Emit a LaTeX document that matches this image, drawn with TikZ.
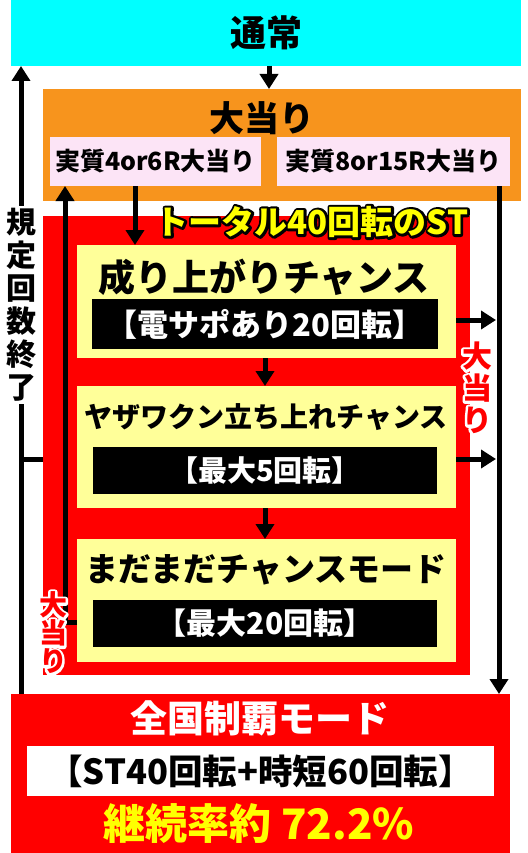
\documentclass[tikz,border=0pt]{standalone}
\usepackage{fontspec}
\setmainfont{Noto Sans CJK JP Black}
\usetikzlibrary{arrows.meta}
\definecolor{cyanbg}{HTML}{00FFFF}
\definecolor{orangebg}{HTML}{F7941D}
\definecolor{pinkbg}{HTML}{FCE4F6}
\definecolor{redbg}{HTML}{FF0000}
\definecolor{paleyel}{HTML}{FFFF99}
\definecolor{txtyel}{HTML}{FFFF00}
\newcommand{\jfs}[1]{\fontsize{#1}{#1}\selectfont}
% outlined text: stroked copy below, filled text on top
\newcommand{\outl}[3]{\leavevmode\rlap{\textcolor{#1}{\special{pdf:literal direct 1 Tr #2 w 1 j}#3\special{pdf:literal direct 0 Tr}}}#3}
\tikzset{
  boxnode/.style={inner sep=0pt, outer sep=0pt, draw=none},
  arr/.style={line width=5pt, -{Triangle[length=15pt,width=18pt]}},
  ln/.style={line width=5pt},
  txt/.style={inner sep=0pt, outer sep=0pt}
}
\begin{document}
\begin{tikzpicture}[x=1pt,y=-1pt]
\useasboundingbox (0,0) rectangle (527,853);
% boxes
\node[boxnode, fill=cyanbg, minimum width=510pt, minimum height=66pt] (tsujo) at (266,33) {\jfs{36}通常};
\node[boxnode, fill=orangebg, minimum width=478pt, minimum height=112pt] (oatari) at (282,145) {};
\node[txt] (oatarit) at (262,118) {\jfs{35}大当り};
\node[boxnode, fill=pinkbg, minimum width=211pt, minimum height=49pt] (pinkL) at (155.5,161.5) {\jfs{25}実質4or6R大当り};
\node[boxnode, fill=pinkbg, minimum width=233pt, minimum height=49pt] (pinkR) at (393.5,161.5) {\jfs{25}実質8or15R大当り};
\node[boxnode, fill=redbg, minimum width=427pt, minimum height=459pt] (st) at (256.5,445.5) {};
\node[txt, text=txtyel] (stt) at (312,222) {\jfs{33}\outl{black}{5}{トータル40回転のST}};
% yellow 1
\node[boxnode, fill=paleyel, minimum width=379pt, minimum height=113pt] (y1) at (266.5,301.5) {};
\node[txt] (y1t) at (264,277) {\jfs{37}成り上がりチャンス};
\node[boxnode, fill=black, text=white, minimum width=346pt, minimum height=50pt] (b1) at (265,324) {\jfs{31}【電サポあり20回転】};
% yellow 2
\node[boxnode, fill=paleyel, minimum width=379pt, minimum height=122pt] (y2) at (266.5,447) {};
\node[txt] (y2t) at (266,417) {\jfs{28}ヤザワクン立ち上れチャンス};
\node[boxnode, fill=black, text=white, minimum width=344pt, minimum height=47pt] (b2) at (265,470.5) {\jfs{29}【最大5回転】};
% yellow 3
\node[boxnode, fill=paleyel, minimum width=379pt, minimum height=123pt] (y3) at (266.5,600.5) {};
\node[txt] (y3t) at (266,570) {\jfs{33}まだまだチャンスモード};
\node[boxnode, fill=black, text=white, minimum width=344pt, minimum height=47pt] (b3) at (265,623.5) {\jfs{30}【最大20回転】};
% bottom
\node[boxnode, fill=redbg, minimum width=499pt, minimum height=159pt] (zenkoku) at (260.5,773.5) {};
\node[txt, text=white] (zt) at (260,718) {\jfs{37}全国制覇モード};
\node[boxnode, fill=white, minimum width=467pt, minimum height=50pt] (wb) at (260.5,771) {\jfs{34.5}【ST40回転+時短60回転】};
\node[txt, text=txtyel] (rate) at (259,824) {\jfs{42}継続率約 72.2\%};
% coordinates
\coordinate (xa) at (135,0);
\coordinate (xm) at (265,0);
\coordinate (xt) at (269,0);
\coordinate (xr) at (499,0);
\coordinate (xl) at (21,0);
\coordinate (r1) at (496,320);
\coordinate (r2) at (496,459);
\coordinate (l3) at (65,622);
\coordinate (s1) at (0,459);
% connectors
\draw[arr] (tsujo.south -| xt) -- (oatari.north -| xt);
\draw[arr] (pinkL.south -| xa) -- (y1.north -| xa);
\draw[arr] (y1.south -| xm) -- (y2.north -| xm);
\draw[arr] (y2.south -| xm) -- (y3.north -| xm);
\draw[arr] (pinkR.south -| xr) -- (zenkoku.north -| xr);
\draw[arr] (y1.east |- r1) -- (r1);
\draw[arr] (y2.east |- r2) -- (r2);
\draw[arr] (y3.west |- l3) -- (l3) -- (pinkL.south -| l3);
\draw[arr] (zenkoku.north -| xl) -- (tsujo.south -| xl);
\draw[ln] (st.west |- s1) -- (xl |- s1);
% labels on lines
\node[txt, fill=white, align=center, inner ysep=2pt, font={\fontsize{30}{33}\selectfont}] (kitei) at (21,305) {規\\定\\回\\数\\終\\了};
\node[txt, align=center, text=redbg, font={\fontsize{30}{32}\selectfont}] (atR) at (477,388) {\outl{white}{5}{大}\\\outl{white}{5}{当}\\\outl{white}{5}{り}};
\node[txt, align=center, text=redbg, font={\fontsize{28}{28}\selectfont}] (atL) at (53,633) {\outl{white}{5}{大}\\\outl{white}{5}{当}\\\outl{white}{5}{り}};
\end{tikzpicture}
\end{document}
